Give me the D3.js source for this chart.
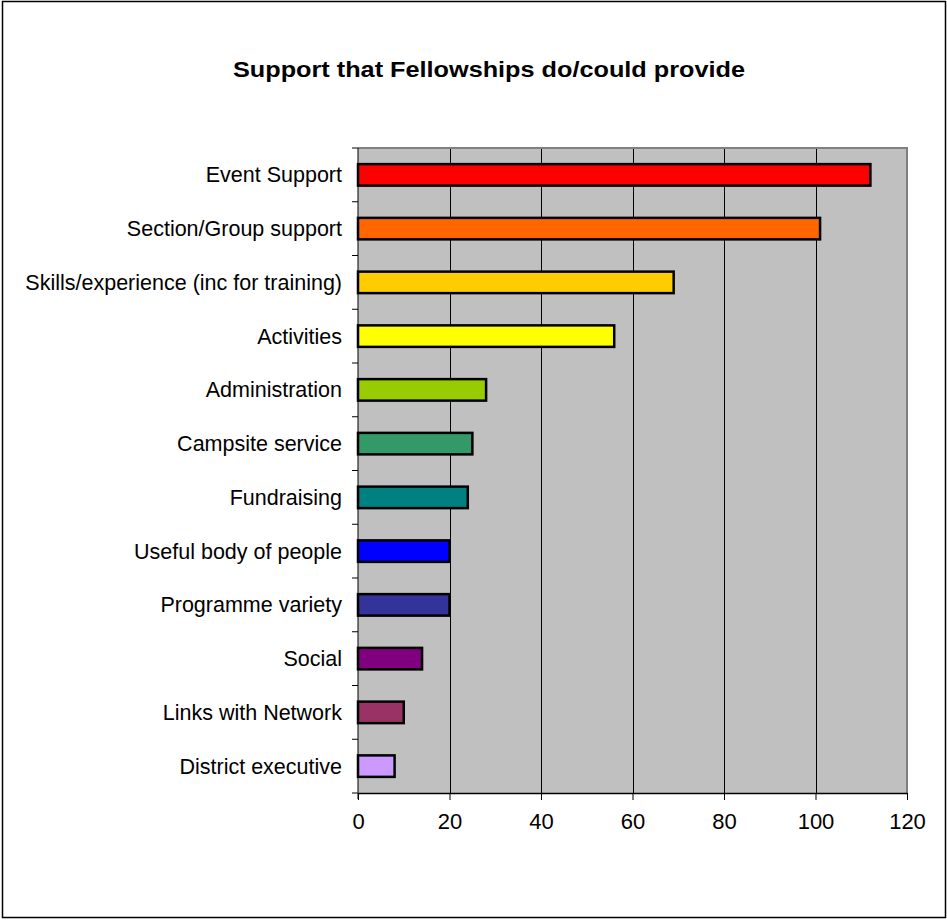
<!DOCTYPE html>
<html>
<head>
<meta charset="utf-8">
<script src="https://cdn.jsdelivr.net/npm/d3@7"></script>
<style>
  html, body { margin: 0; padding: 0; background: #fff; }
  svg { display: block; }
  text { font-family: Arial, "Liberation Sans", sans-serif; fill: #000; }
</style>
</head>
<body>
<svg id="chart" width="947" height="920"></svg>
<script>
const titleText = "Support that Fellowships do/could provide";
const categories = [
  "Event Support",
  "Section/Group support",
  "Skills/experience (inc for training)",
  "Activities",
  "Administration",
  "Campsite service",
  "Fundraising",
  "Useful body of people",
  "Programme variety",
  "Social",
  "Links with Network",
  "District executive"
];
const values = [112, 101, 69, 56, 28, 25, 24, 20, 20, 14, 10, 8];
const barColors = ["#FF0000", "#FF6600", "#FFCC00", "#FFFF00", "#99CC00", "#339966",
                   "#008080", "#0000FF", "#333399", "#800080", "#993366", "#CC99FF"];
const xTicks = [0, 20, 40, 60, 80, 100, 120];

const svg = d3.select("#chart");
const W = 947, H = 920;
const plot = { left: 358, right: 907, top: 148, bottom: 793 };

// outer chart border
svg.append("rect")
  .attr("x", 2.5).attr("y", 1.5)
  .attr("width", W - 4).attr("height", H - 4)
  .attr("fill", "#fff").attr("stroke", "#000").attr("stroke-width", 1.5);

// title
svg.append("text")
  .attr("x", 489).attr("y", 77)
  .attr("text-anchor", "middle")
  .attr("font-size", 22.5)
  .attr("font-weight", "bold")
  .attr("textLength", 512)
  .attr("lengthAdjust", "spacingAndGlyphs")
  .text(titleText);

const x = d3.scaleLinear().domain([0, 120]).range([plot.left, plot.right]);
const y = d3.scaleBand().domain(categories).range([plot.top, plot.bottom]).paddingInner(0.6).paddingOuter(0.3);

// plot background
svg.append("rect")
  .attr("x", plot.left).attr("y", plot.top)
  .attr("width", plot.right - plot.left).attr("height", plot.bottom - plot.top)
  .attr("fill", "#C0C0C0");

// gridlines
svg.append("g")
  .selectAll("line")
  .data(xTicks.filter(d => d > 0 && d < 120))
  .join("line")
  .attr("x1", d => Math.round(x(d)) + 0.5).attr("x2", d => Math.round(x(d)) + 0.5)
  .attr("y1", plot.top).attr("y2", plot.bottom)
  .attr("stroke", "#000").attr("stroke-width", 1);

// plot border (gray) on top/right
svg.append("path")
  .attr("d", `M${plot.left},${plot.top}H${plot.right}V${plot.bottom}`)
  .attr("fill", "none").attr("stroke", "#808080").attr("stroke-width", 2);

// bars
svg.append("g")
  .selectAll("rect")
  .data(categories)
  .join("rect")
  .attr("x", x(0))
  .attr("y", d => y(d))
  .attr("width", (d, i) => x(values[i]) - x(0))
  .attr("height", y.bandwidth())
  .attr("fill", (d, i) => barColors[i])
  .attr("stroke", "#000").attr("stroke-width", 2.5);

// y axis
const yAxisG = svg.append("g").attr("transform", `translate(${plot.left},0)`);
yAxisG.append("line")
  .attr("x1", 0).attr("x2", 0).attr("y1", plot.top).attr("y2", plot.bottom + 6)
  .attr("stroke", "#000").attr("stroke-width", 1);
const step = (plot.bottom - plot.top) / categories.length;
yAxisG.selectAll("line.tick")
  .data(d3.range(categories.length + 1))
  .join("line").attr("class", "tick")
  .attr("x1", -6).attr("x2", 0)
  .attr("y1", i => plot.top + i * step).attr("y2", i => plot.top + i * step)
  .attr("stroke", "#000").attr("stroke-width", 1);
yAxisG.selectAll("text")
  .data(categories)
  .join("text")
  .attr("x", -16)
  .attr("y", d => y(d) + y.bandwidth() / 2)
  .attr("dy", "0.35em")
  .attr("text-anchor", "end")
  .attr("font-size", 21.5)
  .text(d => d);

// x axis
const xAxis = d3.axisBottom(x).tickValues(xTicks).tickSize(7).tickSizeOuter(0).tickPadding(13);
const xAxisG = svg.append("g").attr("transform", `translate(0,${plot.bottom})`).call(xAxis);
xAxisG.select(".domain").attr("stroke", "#000").attr("stroke-width", 1.5);
xAxisG.selectAll(".tick line").attr("stroke", "#000");
xAxisG.selectAll(".tick text")
  .attr("font-size", 22)
  .attr("font-family", "Arial, 'Liberation Sans', sans-serif")
  .attr("fill", "#000");
</script>
</body>
</html>
